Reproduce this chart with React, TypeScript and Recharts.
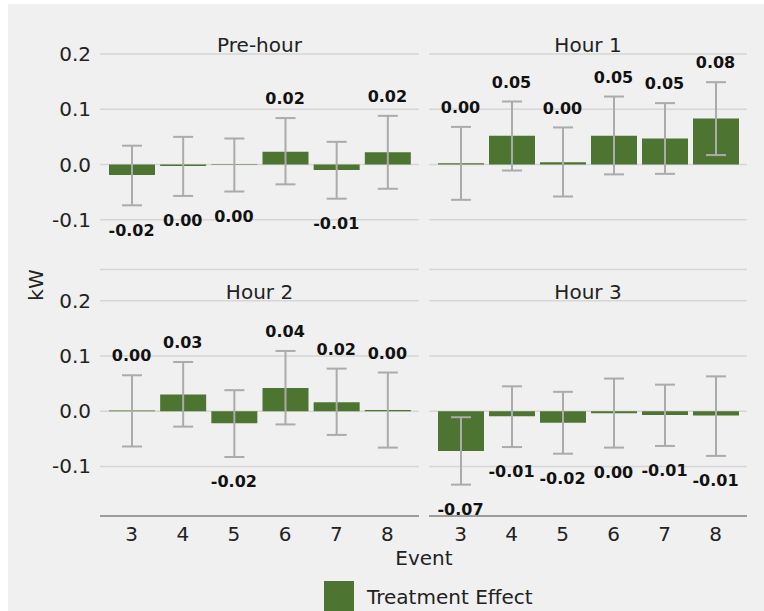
import { ComposedChart, Bar, ErrorBar, Line, LabelList, XAxis, YAxis, CartesianGrid } from 'recharts';

const EVENTS = ['3', '4', '5', '6', '7', '8'];
const PANEL_TITLES = ['Pre-hour', 'Hour 1', 'Hour 2', 'Hour 3'];
const Y_TICKS = [-0.1, 0, 0.1, 0.2];

// treatment effect (kW) and its interval bounds, one set per facet
const PRE_HOUR_EFFECT = [-0.019, -0.003, -0.001, 0.023, -0.01, 0.022];
const PRE_HOUR_LOW = [-0.074, -0.057, -0.049, -0.036, -0.062, -0.044];
const PRE_HOUR_HIGH = [0.034, 0.05, 0.047, 0.084, 0.041, 0.088];

const HOUR1_EFFECT = [0.002, 0.052, 0.004, 0.052, 0.047, 0.083];
const HOUR1_LOW = [-0.064, -0.011, -0.058, -0.018, -0.017, 0.017];
const HOUR1_HIGH = [0.068, 0.114, 0.067, 0.123, 0.111, 0.149];

const HOUR2_EFFECT = [0.001, 0.03, -0.022, 0.042, 0.016, 0.002];
const HOUR2_LOW = [-0.064, -0.028, -0.083, -0.024, -0.043, -0.066];
const HOUR2_HIGH = [0.065, 0.089, 0.038, 0.109, 0.077, 0.07];

const HOUR3_EFFECT = [-0.072, -0.009, -0.021, -0.004, -0.007, -0.008];
const HOUR3_LOW = [-0.133, -0.065, -0.077, -0.066, -0.063, -0.081];
const HOUR3_HIGH = [-0.011, 0.045, 0.035, 0.059, 0.048, 0.063];

const GREEN = '#4e7431';
const ERR_GRAY = '#ababab';
const GRID = '#d6d6d6';
const TEXT = '#222222';

const fmt = (v: number) => (Math.abs(v) < 0.005 ? '0.00' : v.toFixed(2));

function buildRows(effect: number[], low: number[], high: number[]) {
  return EVENTS.map((event, i) => ({
    event,
    effect: effect[i],
    err: [effect[i] - low[i], high[i] - effect[i]],
    // value labels sit just past the end of the interval
    labelY: effect[i] >= 0 ? high[i] + 0.035 : low[i] - 0.045,
    label: fmt(effect[i]),
  }));
}

const PANEL_ROWS = [
  buildRows(PRE_HOUR_EFFECT, PRE_HOUR_LOW, PRE_HOUR_HIGH),
  buildRows(HOUR1_EFFECT, HOUR1_LOW, HOUR1_HIGH),
  buildRows(HOUR2_EFFECT, HOUR2_LOW, HOUR2_HIGH),
  buildRows(HOUR3_EFFECT, HOUR3_LOW, HOUR3_HIGH),
];

const PLOT_H = 215.4;

const renderValueLabel = (props: any) => (
  <text
    x={props.x}
    y={props.y}
    textAnchor="middle"
    dominantBaseline="central"
    fontSize={16}
    fontWeight="bold"
    fill="#111"
  >
    {props.value}
  </text>
);

interface PanelProps {
  rows: ReturnType<typeof buildRows>;
  left: number;
  top: number;
  showY: boolean;
  showX: boolean;
  marginTop: number;
}

function Panel({ rows, left, top, showY, showX, marginTop }: PanelProps) {
  const width = showY ? 416 : 328;
  const xHeight = showX ? 40 : 0;
  const height = marginTop + PLOT_H + xHeight + 5;
  return (
    <div style={{ position: 'absolute', left, top }}>
      <ComposedChart
        width={width}
        height={height}
        data={rows}
        margin={{ top: marginTop, right: 5, bottom: 5, left: showY ? 0 : 5 }}
      >
        <CartesianGrid vertical={false} stroke={GRID} strokeWidth={1.5} />
        <XAxis
          dataKey="event"
          hide={!showX}
          height={xHeight}
          padding={{ left: 6, right: 6 }}
          tickLine={false}
          tickSize={0}
          tickMargin={11}
          axisLine={{ stroke: '#9c9c9c', strokeWidth: 2 }}
          tick={{ fill: TEXT, fontSize: 20 }}
        />
        <YAxis
          type="number"
          domain={[-0.19, 0.2]}
          allowDataOverflow
          ticks={Y_TICKS}
          hide={!showY}
          width={92}
          axisLine={false}
          tickLine={false}
          tickSize={0}
          tickMargin={9}
          tickFormatter={(v: number) => v.toFixed(1)}
          tick={{ fill: TEXT, fontSize: 20 }}
        />
        <Bar dataKey="effect" fill={GREEN} barSize={46} isAnimationActive={false}>
          <ErrorBar
            dataKey="err"
            direction="y"
            width={10}
            stroke={ERR_GRAY}
            strokeWidth={2}
            isAnimationActive={false}
          />
        </Bar>
        <Line
          dataKey="labelY"
          stroke="none"
          dot={false}
          activeDot={false}
          legendType="none"
          isAnimationActive={false}
        >
          <LabelList dataKey="label" content={renderValueLabel} />
        </Line>
      </ComposedChart>
    </div>
  );
}

export default function App() {
  return (
    <div
      style={{
        position: 'absolute',
        left: 8,
        top: 4,
        width: 756,
        height: 607,
        background: '#f0f0f0',
        fontFamily: '"DejaVu Sans", sans-serif',
        overflow: 'hidden',
      }}
    >
      <Panel rows={PANEL_ROWS[0]} left={0} top={0} showY showX={false} marginTop={50} />
      <Panel rows={PANEL_ROWS[1]} left={416} top={0} showY={false} showX={false} marginTop={50} />
      <Panel rows={PANEL_ROWS[2]} left={0} top={280} showY showX marginTop={16.7} />
      <Panel rows={PANEL_ROWS[3]} left={416} top={280} showY={false} showX marginTop={16.7} />

      <svg
        width={756}
        height={607}
        style={{ position: 'absolute', left: 0, top: 0, pointerEvents: 'none' }}
      >
        <g fill={TEXT} fontSize={20} textAnchor="middle">
          <text x={251.5} y={47.5}>{PANEL_TITLES[0]}</text>
          <text x={580} y={47.5}>{PANEL_TITLES[1]}</text>
          <text x={251.5} y={295}>{PANEL_TITLES[2]}</text>
          <text x={580} y={295}>{PANEL_TITLES[3]}</text>
          <text x={416} y={561}>Event</text>
          <text x={35.3} y={281} transform="rotate(-90 35.3 281)">kW</text>
        </g>
        <rect x={316} y={577} width={30} height={30} fill={GREEN} />
        <text x={359} y={599.5} fill={TEXT} fontSize={20}>Treatment Effect</text>
      </svg>
    </div>
  );
}
